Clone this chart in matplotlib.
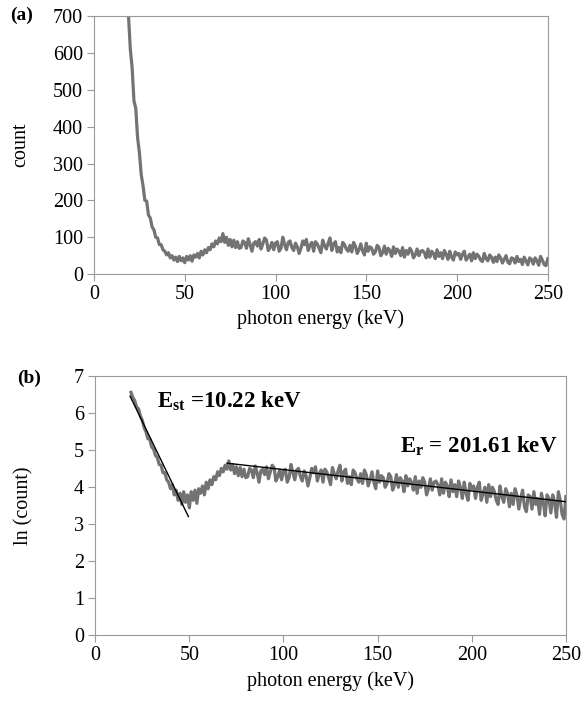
import matplotlib.pyplot as plt
import numpy as np

plt.rcParams['font.family'] = 'Liberation Serif'
plt.rcParams['mathtext.fontset'] = 'custom'
plt.rcParams['mathtext.bf'] = 'Liberation Serif:bold'
plt.rcParams['mathtext.rm'] = 'Liberation Serif'

# photon energy grid (keV) and counts
energy = np.arange(19, 251)
counts = [
    700, 610, 560, 470, 450, 370, 330, 270, 240, 200,
    198, 160, 152, 128, 120, 100, 98, 80, 80, 66,
    62, 52, 58, 44, 50, 38, 46, 34, 48, 36,
    44, 31, 48, 38, 50, 35, 52, 46, 56, 44,
    62, 52, 66, 58, 72, 66, 82, 74, 90, 82,
    98, 88, 110, 86, 100, 78, 94, 74, 92, 72,
    88, 70,
    72, 90, 86, 70, 96, 80, 62, 84, 88, 76,
    94, 68, 82, 98, 92, 64, 72, 86, 66, 84,
    88, 62, 70, 100, 80, 66, 86, 90, 72, 64,
    84, 74, 56, 70, 90, 80, 94, 64, 78, 86,
    62, 88, 82, 70, 58, 92, 78, 68, 84, 98,
    64, 82, 88, 60, 72, 58, 86, 80, 68, 62,
    78, 60, 86, 76, 56, 66, 82, 62, 52, 84,
    62, 74, 70, 54, 60, 78, 72, 50, 58, 76,
    54, 70, 64, 48, 74, 56, 68, 62, 50, 72,
    46, 64, 54, 70, 62, 44, 52, 68, 50, 62,
    64, 58, 44, 68, 46, 62, 56, 42, 66, 48,
    58, 42, 64, 54, 40, 62, 46, 38, 60, 52,
    56, 40, 54, 62, 38, 46, 54, 36, 58, 42,
    54, 48, 38, 34, 56, 42, 36, 52, 46, 32,
    46, 34, 52, 44, 30, 40, 50, 32, 28, 44,
    42, 30, 48, 34, 40, 26, 46, 36, 25, 44,
    40, 27, 44, 36, 24, 48, 38, 26, 23, 42,
]
ln_counts = np.log(counts)

# straight-line fits drawn in panel (b)
fit_st_e = [18.5, 49.5]
fit_st_ln = [6.45, 3.2]
fit_r_e = [70, 250]
fit_r_ln = [4.64, 3.6]

gray = '#737373'
spine = '#9a9a9a'

fig = plt.figure(figsize=(5.84, 7.01), dpi=100)
ax1 = fig.add_axes([0.161, 0.609, 0.777, 0.368])
ax2 = fig.add_axes([0.163, 0.094, 0.806, 0.370])

for ax in (ax1, ax2):
    for s in ax.spines.values():
        s.set_color(spine)
    ax.tick_params(direction='out', length=5, color=spine, labelsize=14.5, pad=3)
    ax.set_xlim(0, 250)
    ax.set_xticks(np.arange(0, 251, 50))
    ax.set_xlabel('photon energy (keV)', fontsize=14.5, labelpad=4)

# panel (a)
ax1.plot(energy, counts, color=gray, lw=2.3)
ax1.set_ylim(0, 700)
ax1.set_yticks(np.arange(0, 701, 100))
ax1.set_ylabel('count', fontsize=14.5)
ax1.yaxis.set_label_coords(-0.141, 0.5)
fig.text(0.017, 0.978, '(a)', fontsize=14, fontweight='bold', va='center')

# panel (b)
ax2.plot(energy, ln_counts, color=gray, lw=2.3)
ax2.plot(fit_st_e, fit_st_ln, color='black', lw=1)
ax2.plot(fit_r_e, fit_r_ln, color='black', lw=1)
ax2.set_ylim(0, 7)
ax2.set_yticks(np.arange(0, 8, 1))
ax2.set_ylabel('ln (count)', fontsize=14.5)
ax2.yaxis.set_label_coords(-0.132, 0.5)
fig.text(0.029, 0.46, '(b)', fontsize=14, fontweight='bold', va='center')

ax2.text(33, 6.13, r'$\mathbf{E_{st}}$ =10.22 keV', fontsize=16.5,
         fontweight='bold', va='baseline')
ax2.text(162, 4.92, r'$\mathbf{E_{r}}$ = 201.61 keV', fontsize=16.5,
         fontweight='bold', va='baseline')

fig.savefig('out.png', dpi=100)
